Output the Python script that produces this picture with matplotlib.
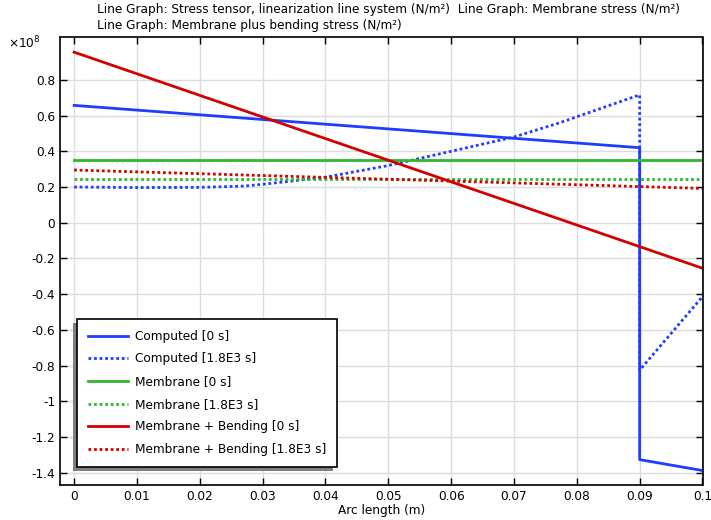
import numpy as np
import matplotlib.pyplot as plt
from matplotlib.patches import Rectangle

# arc length (m) and stresses in units of 1e8 N/m^2
x_comp0 = [0.0, 0.09, 0.09, 0.1]
y_comp0 = [0.657, 0.42, -1.327, -1.388]
x_comp1 = [0.0, 0.01, 0.02, 0.027, 0.03, 0.04, 0.05, 0.06, 0.07, 0.0773, 0.09, 0.09, 0.1]
y_comp1 = [0.20, 0.197, 0.198, 0.205, 0.215, 0.255, 0.32, 0.40, 0.48, 0.56, 0.716, -0.826, -0.414]
x_mem = [0.0, 0.1]
y_mem0 = [0.351, 0.351]
y_mem1 = [0.244, 0.244]
y_mb0 = [0.955, -0.255]
y_mb1 = [0.295, 0.192]

xticks = [0, 0.01, 0.02, 0.03, 0.04, 0.05, 0.06, 0.07, 0.08, 0.09, 0.1]
xticklabels = ["0", "0.01", "0.02", "0.03", "0.04", "0.05", "0.06", "0.07", "0.08", "0.09", "0.1"]
yticks = [0.8, 0.6, 0.4, 0.2, 0, -0.2, -0.4, -0.6, -0.8, -1, -1.2, -1.4]
yticklabels = ["0.8", "0.6", "0.4", "0.2", "0", "-0.2", "-0.4", "-0.6", "-0.8", "-1", "-1.2", "-1.4"]

plt.rcParams['font.family'] = 'DejaVu Sans'
plt.rcParams['mathtext.default'] = 'regular'
fs = 8.7
fig = plt.figure(figsize=(7.11, 5.2), dpi=100)
ax = fig.add_axes([60/711, 1-485/520, (702.5-60)/711, (485-37)/520])

blue, green, red = "#1f3dff", "#2db82d", "#d40000"
lw = 2.0
dot = (0, (1, 1))
ax.plot(x_comp0, y_comp0, color=blue, lw=lw, label="Computed [0 s]")
ax.plot(x_comp1, y_comp1, color=blue, lw=lw, ls=dot, label="Computed [1.8E3 s]")
ax.plot(x_mem, y_mem0, color=green, lw=lw, label="Membrane [0 s]")
ax.plot(x_mem, y_mem1, color=green, lw=lw, ls=dot, label="Membrane [1.8E3 s]")
ax.plot(x_mem, y_mb0, color=red, lw=lw, label="Membrane + Bending [0 s]")
ax.plot(x_mem, y_mb1, color=red, lw=lw, ls=dot, label="Membrane + Bending [1.8E3 s]")

ax.set_xlim(-0.00225, 0.1)
ax.set_ylim(-1.469, 1.04)
ax.set_xticks(xticks)
ax.set_xticklabels(xticklabels)
ax.set_yticks(yticks)
ax.set_yticklabels(yticklabels)
ax.tick_params(direction="in", top=True, right=True, labelsize=fs, length=5, width=1)
ax.grid(True, color="#dcdcdc", lw=1)
ax.set_axisbelow(True)
for s in ax.spines.values():
    s.set_linewidth(1.2)
ax.set_xlabel("Arc length (m)", fontsize=fs, labelpad=1)

fig.text(8/711, 1-43/520, r"$\times 10^{8}$", fontsize=fs, va="center", ha="left")
fig.text(97/711, 1-10/520,
         "Line Graph: Stress tensor, linearization line system (N/m²)  Line Graph: Membrane stress (N/m²)",
         fontsize=fs, va="center", ha="left")
fig.text(97/711, 1-25/520, "Line Graph: Membrane plus bending stress (N/m²)",
         fontsize=fs, va="center", ha="left")

leg = ax.legend(loc="lower left", bbox_to_anchor=(77/711, 1-467/520), bbox_transform=fig.transFigure,
                fontsize=fs, frameon=True, fancybox=False, edgecolor="black", framealpha=1,
                handlelength=3.3, labelspacing=0.8, borderpad=0.9, handletextpad=0.6,
                borderaxespad=0)
leg.get_frame().set_linewidth(1.2)
leg.set_zorder(6)

# shadow offset to the lower left of the legend box
fig.canvas.draw()
bb = leg.get_window_extent()
shadow = Rectangle((bb.x0 - 4, bb.y0 - 4), bb.width, bb.height, transform=None,
                   facecolor="#808080", edgecolor="none", zorder=5)
ax.add_artist(shadow)

fig.savefig("out.png", dpi=100)
